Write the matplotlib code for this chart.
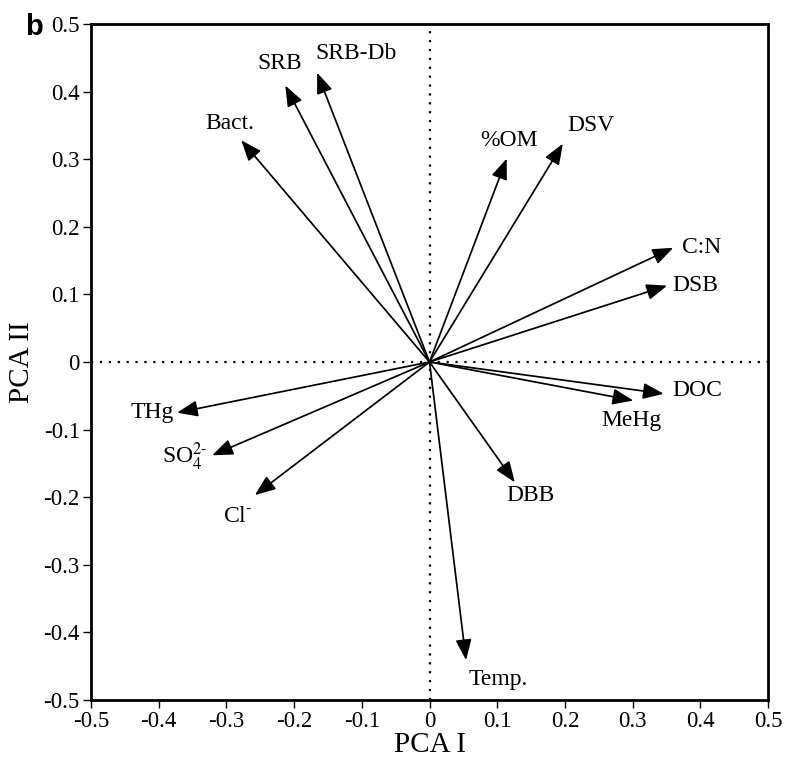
import matplotlib
matplotlib.use("Agg")
import matplotlib.pyplot as plt

plt.rcParams['font.family'] = ['Liberation Serif', 'DejaVu Serif']
plt.rcParams['mathtext.fontset'] = 'stix'
plt.rcParams['axes.unicode_minus'] = False

# loadings (arrow tips)
names = ['SRB', 'SRB-Db', 'Bact.', '%OM', 'DSV', 'C:N', 'DSB', 'DOC', 'MeHg',
         'DBB', 'Temp.', 'THg', r'SO$_4^{2\text{-}}$', r'Cl$^{\text{-}}$']
pc1 = [-0.213, -0.166, -0.278, 0.114, 0.197, 0.360, 0.351, 0.346, 0.301,
       0.126, 0.054, -0.373, -0.321, -0.258]
pc2 = [0.409, 0.428, 0.328, 0.301, 0.323, 0.169, 0.113, -0.047, -0.057,
       -0.178, -0.441, -0.075, -0.138, -0.197]
# where the names sit
lab_x = [-0.222, -0.109, -0.295, 0.117, 0.239, 0.402, 0.392, 0.396, 0.298,
         0.149, 0.101, -0.410, -0.362, -0.283]
lab_y = [0.442, 0.456, 0.353, 0.328, 0.350, 0.169, 0.113, -0.042, -0.086,
         -0.197, -0.470, -0.075, -0.140, -0.228]

ticks = [-0.5, -0.4, -0.3, -0.2, -0.1, 0, 0.1, 0.2, 0.3, 0.4, 0.5]
tick_labels = ['-0.5', '-0.4', '-0.3', '-0.2', '-0.1', '0', '0.1', '0.2', '0.3', '0.4', '0.5']

fig = plt.figure(figsize=(7.87, 7.65), dpi=100)
ax = fig.add_axes([0.1156, 0.085, 0.8603, 0.8836])

ax.axhline(0, color='black', linestyle=(0, (1, 3)), linewidth=1.6)
ax.axvline(0, color='black', linestyle=(0, (1, 3)), linewidth=1.6)

for n, x, y, tx, ty in zip(names, pc1, pc2, lab_x, lab_y):
    ax.annotate('', xy=(x, y), xytext=(0, 0),
                arrowprops=dict(arrowstyle='-|>,head_length=0.9,head_width=0.35',
                                color='black', lw=1.25, shrinkA=0, shrinkB=0,
                                mutation_scale=14))
    ax.text(tx, ty, n, fontsize=17, ha='center', va='center')

ax.set_xlim(-0.5, 0.5)
ax.set_ylim(-0.5, 0.5)
ax.set_xticks(ticks)
ax.set_xticklabels(tick_labels)
ax.set_yticks(ticks)
ax.set_yticklabels(tick_labels)
ax.tick_params(direction='out', length=6, width=1, labelsize=16.5, pad=2)
for s in ax.spines.values():
    s.set_linewidth(2)

ax.set_xlabel('PCA I', fontsize=21, labelpad=0)
ax.set_ylabel('PCA II', fontsize=21, labelpad=6)

fig.text(0.032, 0.965, 'b', fontsize=21, fontweight='bold',
         family='Liberation Sans', ha='left', va='center')

fig.savefig('out.png', dpi=100)
